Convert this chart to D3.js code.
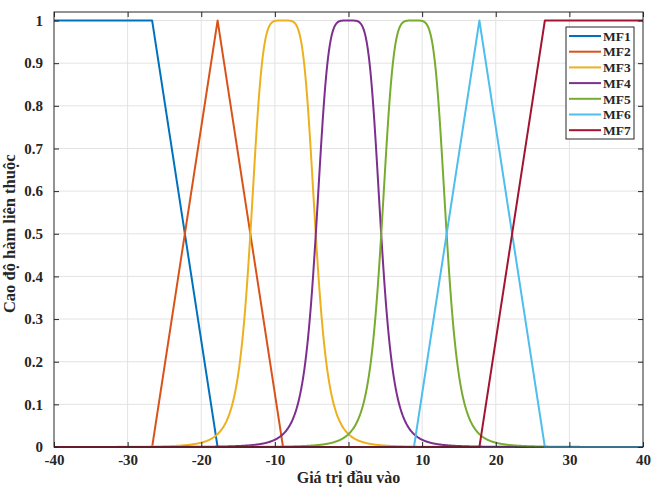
<!DOCTYPE html>
<html>
<head>
<meta charset="utf-8">
<script src="https://cdn.jsdelivr.net/npm/d3@7"></script>
<style>
  html, body { margin: 0; padding: 0; background: #fff; }
  svg { display: block; }
  text { font-family: "Liberation Serif", "Times New Roman", serif; font-weight: bold; fill: #262626; }
</style>
</head>
<body>
<svg id="chart" width="653" height="487"></svg>
<script>
// Membership function definitions (input universe -40..40)
const mfNames  = ["MF1", "MF2", "MF3", "MF4", "MF5", "MF6", "MF7"];
const mfTypes  = ["trapmf", "trimf", "gbellmf", "gbellmf", "gbellmf", "trimf", "trapmf"];
const mfParams = [
  [-40, -40, -26.67, -17.78],
  [-26.67, -17.78, -8.89],
  [4.44, 2.5, -8.89],
  [4.44, 2.5, 0],
  [4.44, 2.5, 8.89],
  [8.89, 17.78, 26.67],
  [17.78, 26.67, 40, 40]
];
const mfColors = ["#0072BD", "#D95319", "#EDB120", "#7E2F8E", "#77AC30", "#4DBEEE", "#A2142F"];

const xTicks = [-40, -30, -20, -10, 0, 10, 20, 30, 40];
const yTicks = [0, 0.1, 0.2, 0.3, 0.4, 0.5, 0.6, 0.7, 0.8, 0.9, 1];
const xLabel = "Giá trị đầu vào";
const yLabel = "Cao độ hàm liên thuộc";

// Standard fuzzy membership functions
function trimf(x, [a, b, c]) {
  if (x <= a || x >= c) return (x === b) ? 1 : 0;
  return x <= b ? (x - a) / (b - a) : (c - x) / (c - b);
}
function trapmf(x, [a, b, c, d]) {
  let left = (b === a) ? (x >= a ? 1 : 0) : Math.max(0, Math.min(1, (x - a) / (b - a)));
  let right = (d === c) ? (x <= d ? 1 : 0) : Math.max(0, Math.min(1, (d - x) / (d - c)));
  return Math.min(left, right);
}
function gbellmf(x, [a, b, c]) {
  return 1 / (1 + Math.pow(Math.abs((x - c) / a), 2 * b));
}
const mfFns = { trimf, trapmf, gbellmf };

const svg = d3.select("#chart");
const W = 653, H = 487;
svg.append("rect").attr("width", W).attr("height", H).attr("fill", "#fff");

const x = d3.scaleLinear().domain([-40, 40]).range([54, 643]);
const y = d3.scaleLinear().domain([0, 1.02]).range([447, 12]);

const [x0, x1] = x.range();
const [yB, yT] = y.range();

// grid
const grid = svg.append("g");
grid.selectAll(".gx").data(xTicks.slice(1, -1)).join("line")
  .attr("x1", d => x(d)).attr("x2", d => x(d)).attr("y1", yB).attr("y2", yT)
  .attr("stroke", "#e3e3e3").attr("stroke-width", 1);
grid.selectAll(".gy").data(yTicks.slice(1)).join("line")
  .attr("x1", x0).attr("x2", x1).attr("y1", d => y(d)).attr("y2", d => y(d))
  .attr("stroke", "#e3e3e3").attr("stroke-width", 1);

// curves sampled densely across the universe, including breakpoints
const xs = d3.range(-40, 40.0001, 0.05);
const line = d3.line().x(d => x(d[0])).y(d => y(d[1]));
const curves = svg.append("g");
mfNames.forEach((name, i) => {
  const p = mfParams[i];
  const pts = Array.from(new Set(xs.concat(mfTypes[i] === "gbellmf" ? [] : p)))
    .filter(v => v >= -40 && v <= 40).sort((a, b) => a - b);
  const data = pts.map(v => [v, mfFns[mfTypes[i]](v, p)]);
  curves.append("path").datum(data)
    .attr("d", line)
    .attr("fill", "none")
    .attr("stroke", mfColors[i])
    .attr("stroke-width", 2)
    .attr("stroke-linejoin", "round");
});

// axes box with inward ticks
const axisColor = "#262626";
const tickLen = 5;
const axes = svg.append("g");
axes.append("rect").attr("x", x0).attr("y", yT).attr("width", x1 - x0).attr("height", yB - yT)
  .attr("fill", "none").attr("stroke", axisColor).attr("stroke-width", 1);

const plainNum = d => String(d);  // hyphen-minus, as in the axis labels
const xAxisB = d3.axisBottom(x).tickValues(xTicks).tickSize(-tickLen).tickPadding(tickLen + 2).tickFormat(plainNum);
const xAxisT = d3.axisTop(x).tickValues(xTicks).tickSize(-tickLen).tickFormat("");
const yAxisL = d3.axisLeft(y).tickValues(yTicks).tickSize(-tickLen).tickPadding(tickLen + 6).tickFormat(plainNum);
const yAxisR = d3.axisRight(y).tickValues(yTicks).tickSize(-tickLen).tickFormat("");

function style(g) {
  g.select(".domain").remove();
  g.selectAll(".tick line").attr("stroke", axisColor);
  g.selectAll(".tick text").attr("fill", axisColor)
    .style("font-family", '"Liberation Serif", "Times New Roman", serif')
    .style("font-weight", "bold").style("font-size", "15px");
}
axes.append("g").attr("transform", `translate(0,${yB})`).call(xAxisB).call(style);
axes.append("g").attr("transform", `translate(0,${yT})`).call(xAxisT).call(style);
axes.append("g").attr("transform", `translate(${x0},0)`).call(yAxisL).call(style);
axes.append("g").attr("transform", `translate(${x1},0)`).call(yAxisR).call(style);

// axis titles
svg.append("text").attr("x", (x0 + x1) / 2).attr("y", 482.5)
  .attr("text-anchor", "middle").style("font-size", "16px").text(xLabel);
svg.append("text")
  .attr("transform", `translate(15,${(yB + y(1)) / 2}) rotate(-90)`)
  .attr("text-anchor", "middle").style("font-size", "16.5px").text(yLabel);

// legend
const lg = svg.append("g").attr("transform", "translate(566,27)");
const rowH = 15.7;
lg.append("rect").attr("width", 68).attr("height", 112)
  .attr("fill", "#fff").attr("stroke", "#262626").attr("stroke-width", 1);
mfNames.forEach((name, i) => {
  const cy = 9 + i * rowH;
  lg.append("line").attr("x1", 3).attr("x2", 35).attr("y1", cy).attr("y2", cy)
    .attr("stroke", mfColors[i]).attr("stroke-width", 2);
  lg.append("text").attr("x", 37).attr("y", cy).attr("dy", "0.35em")
    .style("font-size", "13.5px").text(name);
});
</script>
</body>
</html>
